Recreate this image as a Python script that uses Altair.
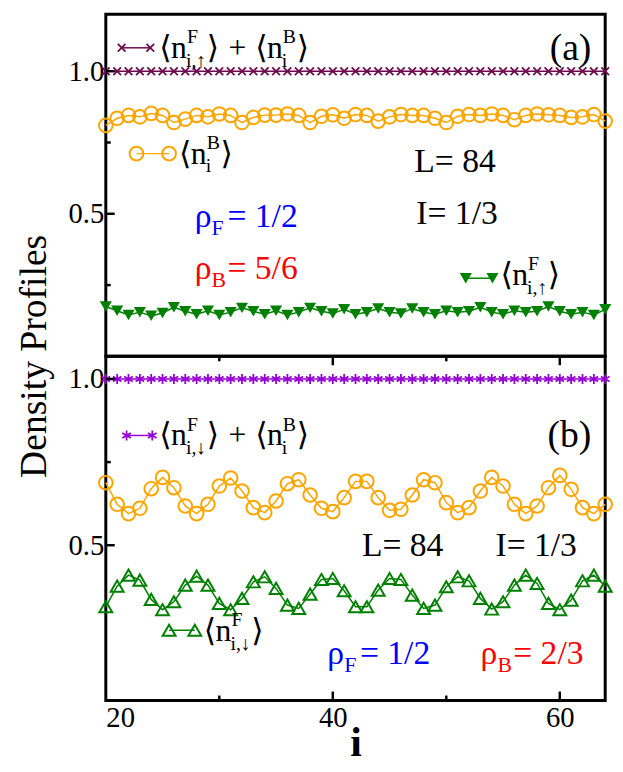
import altair as alt
import pandas as pd

FONT = "'Liberation Serif', 'Times New Roman', Times, 'DejaVu Serif', serif"

# ---------------- data ----------------
sites = list(range(20, 65))

# panel (a)
sum_a = [1.0, 1.0, 1.0, 1.0, 1.0, 1.0, 1.0, 1.0, 1.0, 1.0, 1.0, 1.0, 1.0, 1.0, 1.0,
         1.0, 1.0, 1.0, 1.0, 1.0, 1.0, 1.0, 1.0, 1.0, 1.0, 1.0, 1.0, 1.0, 1.0, 1.0,
         1.0, 1.0, 1.0, 1.0, 1.0, 1.0, 1.0, 1.0, 1.0, 1.0, 1.0, 1.0, 1.0, 1.0, 1.0]
nB_a = [0.810, 0.835, 0.845, 0.840, 0.852, 0.845, 0.820, 0.832, 0.845, 0.840,
        0.850, 0.845, 0.820, 0.838, 0.846, 0.846, 0.850, 0.845, 0.820, 0.842,
        0.847, 0.835, 0.848, 0.845, 0.825, 0.840, 0.848, 0.845, 0.845, 0.835,
        0.820, 0.842, 0.848, 0.845, 0.850, 0.845, 0.830, 0.845, 0.850, 0.847,
        0.845, 0.838, 0.840, 0.848, 0.825]
nFup_a = [0.175, 0.160, 0.145, 0.155, 0.142, 0.152, 0.172, 0.158, 0.148, 0.160,
          0.145, 0.155, 0.170, 0.158, 0.148, 0.160, 0.145, 0.155, 0.170, 0.158,
          0.150, 0.165, 0.148, 0.155, 0.168, 0.155, 0.150, 0.168, 0.155, 0.148,
          0.160, 0.155, 0.158, 0.172, 0.155, 0.148, 0.160, 0.155, 0.158, 0.175,
          0.158, 0.148, 0.155, 0.145, 0.165]

# panel (b)
sum_b = [1.0, 1.0, 1.0, 1.0, 1.0, 1.0, 1.0, 1.0, 1.0, 1.0, 1.0, 1.0, 1.0, 1.0, 1.0,
         1.0, 1.0, 1.0, 1.0, 1.0, 1.0, 1.0, 1.0, 1.0, 1.0, 1.0, 1.0, 1.0, 1.0, 1.0,
         1.0, 1.0, 1.0, 1.0, 1.0, 1.0, 1.0, 1.0, 1.0, 1.0, 1.0, 1.0, 1.0, 1.0, 1.0]
nB_b = [0.688, 0.623, 0.595, 0.611, 0.670, 0.704, 0.673, 0.618, 0.595, 0.623,
        0.678, 0.702, 0.663, 0.613, 0.598, 0.633, 0.685, 0.697, 0.651, 0.611,
        0.601, 0.643, 0.692, 0.692, 0.643, 0.605, 0.608, 0.651, 0.697, 0.688,
        0.628, 0.598, 0.613, 0.663, 0.704, 0.678, 0.623, 0.595, 0.618, 0.673,
        0.710, 0.668, 0.613, 0.595, 0.623]
nFdn_b = [0.315, 0.377, 0.410, 0.395, 0.337, 0.306, 0.330, 0.380, 0.407, 0.380,
          0.325, 0.306, 0.340, 0.390, 0.405, 0.370, 0.320, 0.310, 0.353, 0.397,
          0.400, 0.363, 0.315, 0.315, 0.365, 0.400, 0.397, 0.350, 0.310, 0.320,
          0.375, 0.405, 0.393, 0.340, 0.308, 0.330, 0.380, 0.410, 0.385, 0.325,
          0.306, 0.335, 0.393, 0.410, 0.377]

x_labels = [20, 40, 60]
x_minor = [30, 50]
y_labels = [0.5, 1.0]
y_minor_a = [0.25, 0.75]
y_minor_b = [0.75]

# ---------------- styling ----------------
W, H1, H2 = 505, 346, 348
MAROON, ORANGE, GREEN, PURPLE = "#6e0b4e", "#FFA500", "#008000", "#9400D3"
X_PATH = "M-1,-1L1,1M-1,1L1,-1"
STAR_PATH = "M0,-1L0,1M-0.87,-0.5L0.87,0.5M-0.87,0.5L0.87,-0.5"

xscale = alt.Scale(domain=[20, 64], nice=False, zero=False)
yscale_a = alt.Scale(domain=[0.0, 1.2], nice=False, zero=False)
yscale_b = alt.Scale(domain=[0.033, 1.068], nice=False, zero=False)

yaxis = alt.Axis(values=y_labels, format=".1f", ticks=False, domain=False, grid=False,
                 labelFontSize=29, labelFont=FONT, labelColor="black", labelPadding=2,
                 title=None)
xaxis_b = alt.Axis(values=x_labels, format="d", ticks=False, domain=False, grid=False,
                   labelFontSize=29, labelFont=FONT, labelColor="black", labelPadding=3,
                   title="i", titleFont=FONT, titleFontSize=42, titleFontWeight="bold",
                   titleColor="black", titlePadding=-9)

dummy = pd.DataFrame({"z": [0]})


def txt(s, x, y, size=32, color="black", align="left", baseline="alphabetic", angle=0):
    return alt.Chart(dummy).mark_text(
        text=s, fontSize=size, font=FONT, color=color, align=align,
        baseline=baseline, angle=angle
    ).encode(x=alt.value(x), y=alt.value(y))


def nlabel(x0, yb, sup, sub, close_dx, color="black", big=32, small=20):
    return [
        txt("\u27e8", x0, yb, big, color),
        txt("n", x0 + 12, yb, big, color),
        txt(sup, x0 + 28, yb - 15, small, color),
        txt(sub, x0 + 27, yb + 9, small, color),
        txt("\u27e9", x0 + close_dx, yb, big, color),
    ]


def rho(x0, yb, sub, rest, color):
    return [
        txt("\u03c1", x0, yb, 34, color),
        txt(sub, x0 + 17, yb + 8, 22, color),
        txt("= " + rest, x0 + 33, yb, 34, color),
    ]


def sample(x1, x2, y, color, shape, size, filled, sw):
    line = alt.Chart(dummy).mark_rule(color=color, strokeWidth=1.5).encode(
        x=alt.value(x1), x2=alt.value(x2), y=alt.value(y))
    pts = [alt.Chart(dummy).mark_point(shape=shape, size=size, filled=filled,
                                       color=color, strokeWidth=sw, opacity=1).encode(
        x=alt.value(xx), y=alt.value(y)) for xx in (x1, x2)]
    return [line] + pts


def series(df, col, yscale, color, shape, size, filled, sw, xaxis):
    base = alt.Chart(df).encode(
        x=alt.X("i:Q", scale=xscale, axis=xaxis),
        y=alt.Y(col + ":Q", scale=yscale, axis=yaxis))
    ln = base.mark_line(color=color, strokeWidth=1.5)
    pt = base.mark_point(shape=shape, size=size, filled=filled, color=color,
                         strokeWidth=sw, opacity=1)
    return [ln, pt]


def yticks(vals, yscale, length, xaxis):
    df = pd.DataFrame({"v": vals})
    return alt.Chart(df).mark_rule(color="black", strokeWidth=2.5).encode(
        y=alt.Y("v:Q", scale=yscale, axis=yaxis),
        x=alt.value(0), x2=alt.value(length))


def xticks(vals, yscale, y1, y2, xaxis):
    df = pd.DataFrame({"v": vals})
    return alt.Chart(df).mark_rule(color="black", strokeWidth=2.5).encode(
        x=alt.X("v:Q", scale=xscale, axis=xaxis),
        y=alt.value(y1), y2=alt.value(y2))


# ---------------- panel (a) ----------------
df_a = pd.DataFrame({"i": sites, "sum": sum_a, "nB": nB_a, "nF": nFup_a})
layers_a = []
layers_a += series(df_a, "nB", yscale_a, ORANGE, "circle", 190, False, 2, None)
layers_a += series(df_a, "nF", yscale_a, GREEN, "triangle-down", 150, True, 1, None)
layers_a += series(df_a, "sum", yscale_a, MAROON, X_PATH, 60, False, 1.8, None)
layers_a += [yticks(y_labels, yscale_a, 9, None), yticks(y_minor_a, yscale_a, 5, None)]
layers_a += sample(16, 45, 34, MAROON, X_PATH, 60, False, 1.8)
layers_a += nlabel(54, 44, "F", "i,\u2191", 48)
layers_a += [txt("+", 124, 44)]
layers_a += nlabel(151, 44, "B", "i", 42)
layers_a += [txt("(a)", 491, 46, 38, align="right")]
layers_a += sample(31, 64, 141, ORANGE, "circle", 190, False, 2)
layers_a += nlabel(74, 151, "B", "i", 42)
layers_a += [txt("L= 84", 312, 160, 34), txt("I= 1/3", 314, 212, 34)]
layers_a += rho(90, 215, "F", "1/2", "#0000FF")
layers_a += rho(90, 268, "B", "5/6", "#FF0000")
layers_a += sample(364, 391, 267, GREEN, "triangle-down", 150, True, 1)
layers_a += nlabel(399, 274, "F", "i,\u2191", 48)
layers_a += [txt("Density Profiles", -71, H1, 38, align="center", baseline="middle", angle=270)]

panel_a = alt.layer(*layers_a).properties(width=W, height=H1)

# ---------------- panel (b) ----------------
df_b = pd.DataFrame({"i": sites, "sum": sum_b, "nB": nB_b, "nF": nFdn_b})
layers_b = []
layers_b += series(df_b, "nB", yscale_b, ORANGE, "circle", 190, False, 2, xaxis_b)
layers_b += series(df_b, "nF", yscale_b, GREEN, "triangle-up", 170, False, 2, xaxis_b)
layers_b += series(df_b, "sum", yscale_b, PURPLE, STAR_PATH, 100, False, 1.8, xaxis_b)
layers_b += [yticks(y_labels, yscale_b, 9, xaxis_b), yticks(y_minor_b, yscale_b, 5, xaxis_b)]
layers_b += [xticks([40, 60], yscale_b, H2, H2 - 9, xaxis_b),
             xticks(x_minor, yscale_b, H2, H2 - 5, xaxis_b),
             xticks([40, 60], yscale_b, 0, 9, xaxis_b),
             xticks([30, 50], yscale_b, 0, 5, xaxis_b)]
layers_b += sample(21, 47, 80, PURPLE, STAR_PATH, 100, False, 1.8)
layers_b += nlabel(54, 90, "F", "i,\u2193", 48)
layers_b += [txt("+", 124, 90)]
layers_b += nlabel(151, 90, "B", "i", 42)
layers_b += [txt("(b)", 491, 92, 38, align="right")]
layers_b += [txt("L= 84", 259, 202, 34), txt("I= 1/3", 394, 202, 34)]
layers_b += sample(64, 90, 277, GREEN, "triangle-up", 170, False, 2)
layers_b += nlabel(99, 288, "F", "i,\u2193", 48)
layers_b += rho(224, 311, "F", "1/2", "#0000FF")
layers_b += rho(379, 311, "B", "2/3", "#FF0000")

panel_b = alt.layer(*layers_b).properties(width=W, height=H2)

chart = alt.vconcat(panel_a, panel_b, spacing=0, bounds="flush").properties(
    padding={"left": 15, "top": 8, "right": 5, "bottom": 5},
    background="white"
).configure_view(stroke="black", strokeWidth=3)

chart.save("out.html", embed_options={"renderer": "svg", "actions": False})
